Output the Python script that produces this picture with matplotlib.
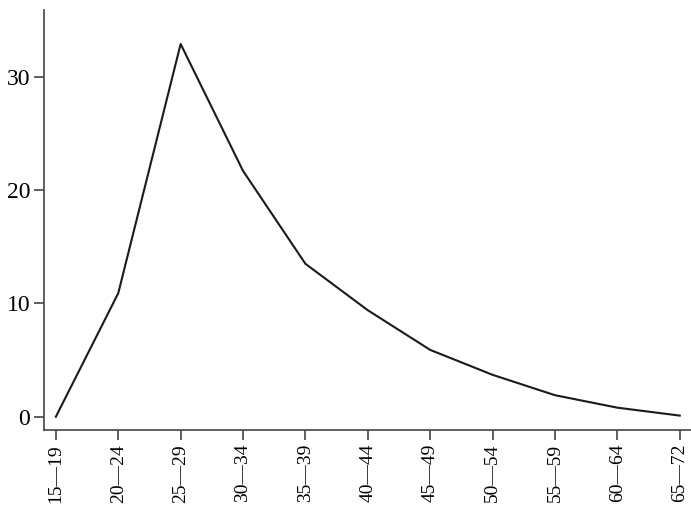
import matplotlib
matplotlib.use("Agg")
import matplotlib.pyplot as plt

# age groups and values
age_groups = ["15\u201419", "20\u201424", "25\u201429", "30\u201434", "35\u201439", "40\u201444",
              "45\u201449", "50\u201454", "55\u201459", "60\u201464", "65\u201472"]
values = [0.0, 10.9, 32.9, 21.7, 13.5, 9.4, 5.9, 3.7, 1.9, 0.8, 0.1]

plt.rcParams["font.family"] = ["Liberation Serif", "DejaVu Serif"]

fig = plt.figure(figsize=(6.91, 5.09), dpi=100)
ax = fig.add_axes([44 / 691, 79 / 509, 647 / 691, 420 / 509])

x = range(len(age_groups))
ax.plot(x, values, color="#1a1a1a", linewidth=1.5)

ax.set_xlim(-0.19, 10.18)
ax.set_ylim(-1.17, 35.9)
ax.set_xticks(list(x))
ax.set_xticklabels(age_groups, rotation=90, fontsize=14)
ax.set_yticks([0, 10, 20, 30])
ax.tick_params(axis="y", labelsize=17, length=7, width=1.2, color="#444444", pad=3)
ax.tick_params(axis="x", length=7, width=1.2, color="#444444", pad=3)

ax.spines["top"].set_visible(False)
ax.spines["right"].set_visible(False)
ax.spines["left"].set_color("#444444")
ax.spines["bottom"].set_color("#444444")
ax.spines["left"].set_linewidth(1.2)
ax.spines["bottom"].set_linewidth(1.2)

fig.savefig("out.png", dpi=100)
